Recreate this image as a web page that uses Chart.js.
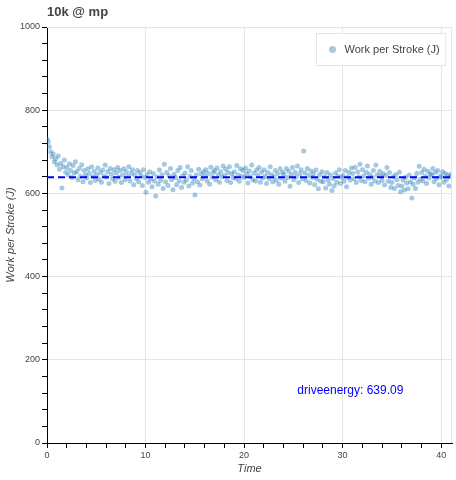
<!DOCTYPE html>
<html lang="en">
<head>
  <meta charset="UTF-8" />
  <title>10k @ mp</title>
  <script src="https://cdn.jsdelivr.net/npm/chart.js"></script>
  <style>
    body {
      margin: 0;
      background: #fff;
    }
    #wrap {
      width: 456px;
      height: 480px;
    }
  </style>
</head>
<body>
  <div id="wrap"><canvas id="chart" width="456" height="480"></canvas></div>

  <script>
    const titleText = '10k @ mp';
    const seriesLabel = 'Work per Stroke (J)';
    const meanLabel = 'driveenergy';
    const meanValue = 639.09;
    const xTicks = [0, 10, 20, 30, 40];
    const yTicks = [0, 200, 400, 600, 800, 1000];

    // time of each stroke (minutes)
    const times = [
      0, 0.13, 0.25, 0.38, 0.5, 0.63, 0.75, 0.88,
      1.01, 1.14, 1.26, 1.39, 1.51, 1.64, 1.76, 1.89,
      2.02, 2.14, 2.27, 2.39, 2.52, 2.64, 2.77, 2.89,
      3.02, 3.15, 3.27, 3.4, 3.52, 3.65, 3.77, 3.9,
      4.03, 4.15, 4.28, 4.4, 4.53, 4.65, 4.78, 4.9,
      5.03, 5.16, 5.28, 5.41, 5.53, 5.66, 5.78, 5.91,
      6.04, 6.16, 6.29, 6.41, 6.54, 6.66, 6.79, 6.91,
      7.04, 7.17, 7.29, 7.42, 7.54, 7.67, 7.79, 7.92,
      8.05, 8.17, 8.3, 8.42, 8.55, 8.67, 8.8, 8.92,
      9.05, 9.18, 9.3, 9.43, 9.55, 9.68, 9.8, 9.93,
      10.04, 10.16, 10.29, 10.41, 10.54, 10.66, 10.79, 10.91,
      11.03, 11.16, 11.28, 11.41, 11.53, 11.66, 11.78, 11.91,
      12.03, 12.15, 12.28, 12.4, 12.53, 12.65, 12.78, 12.9,
      13.02, 13.15, 13.27, 13.4, 13.52, 13.65, 13.77, 13.9,
      14.02, 14.14, 14.27, 14.39, 14.52, 14.64, 14.77, 14.89,
      15.01, 15.14, 15.26, 15.39, 15.51, 15.64, 15.76, 15.89,
      16.01, 16.13, 16.26, 16.38, 16.51, 16.63, 16.76, 16.88,
      17, 17.13, 17.25, 17.38, 17.5, 17.63, 17.75, 17.88,
      18.01, 18.13, 18.26, 18.38, 18.51, 18.63, 18.76, 18.88,
      19.01, 19.14, 19.26, 19.39, 19.51, 19.64, 19.76, 19.89,
      20.02, 20.14, 20.27, 20.39, 20.52, 20.64, 20.77, 20.89,
      21.02, 21.15, 21.27, 21.4, 21.52, 21.65, 21.77, 21.9,
      22.03, 22.15, 22.28, 22.4, 22.53, 22.65, 22.78, 22.9,
      23.03, 23.16, 23.28, 23.41, 23.53, 23.66, 23.78, 23.91,
      24.04, 24.16, 24.29, 24.41, 24.54, 24.66, 24.79, 24.91,
      25.04, 25.17, 25.29, 25.42, 25.54, 25.67, 25.79, 25.92,
      26.05, 26.17, 26.3, 26.42, 26.55, 26.67, 26.8, 26.92,
      27.04, 27.16, 27.29, 27.41, 27.54, 27.66, 27.79, 27.91,
      28.03, 28.16, 28.28, 28.41, 28.53, 28.66, 28.78, 28.91,
      29.03, 29.15, 29.28, 29.4, 29.53, 29.65, 29.78, 29.9,
      30.02, 30.15, 30.27, 30.4, 30.52, 30.65, 30.77, 30.9,
      31.02, 31.14, 31.27, 31.39, 31.52, 31.64, 31.77, 31.89,
      32.01, 32.14, 32.26, 32.39, 32.51, 32.64, 32.76, 32.89,
      33.01, 33.13, 33.26, 33.38, 33.51, 33.63, 33.76, 33.88,
      34, 34.13, 34.25, 34.38, 34.5, 34.63, 34.75, 34.88,
      35.01, 35.13, 35.26, 35.38, 35.51, 35.63, 35.76, 35.88,
      36.01, 36.14, 36.26, 36.39, 36.51, 36.64, 36.76, 36.89,
      37.02, 37.14, 37.27, 37.39, 37.52, 37.64, 37.77, 37.89,
      38.02, 38.15, 38.27, 38.4, 38.52, 38.65, 38.77, 38.9,
      39.03, 39.15, 39.28, 39.4, 39.53, 39.65, 39.78, 39.9,
      40.03, 40.16, 40.28, 40.41, 40.53, 40.66, 40.78, 40.91,
      41.02
    ];

    // work per stroke (J)
    const work = [
      731, 724, 712, 700, 688, 695, 676, 683,
      669, 690, 658, 672, 613, 664, 680, 651,
      662, 645, 671, 655, 638, 667, 649, 676,
      652, 633, 660, 641, 669, 628, 655, 644,
      637, 659, 648, 626, 664, 640, 653, 631,
      645, 661, 634, 650, 627, 656, 642, 668,
      639, 652, 624, 660, 646, 635, 657, 629,
      649, 662, 638, 655, 626, 644, 659, 633,
      652, 641, 664, 630, 648, 657, 621, 645,
      636, 655, 628, 650, 642, 619, 657, 638,
      603, 645, 627, 652, 634, 616, 648, 630,
      594, 640, 622, 656, 631, 645, 612, 670,
      628, 650, 619, 642, 660, 633, 609, 646,
      638, 621, 655, 630, 662, 614, 643, 627,
      649, 632, 664, 618, 641, 655, 625, 636,
      596, 644, 628, 658, 620, 647, 635, 652,
      641, 657, 630, 648, 622, 663, 639, 650,
      655, 633, 661, 645, 627, 652, 640, 666,
      643, 658, 631, 650, 664, 626, 647, 638,
      652, 636, 667, 644, 629, 659, 641, 655,
      638, 661, 647, 625, 654, 640, 668, 633,
      649, 630, 656, 643, 662, 627, 651, 637,
      657, 641, 624, 650, 636, 664, 645, 628,
      640, 655, 631, 648, 622, 659, 637, 651,
      646, 629, 660, 638, 653, 617, 644, 662,
      633, 651, 640, 666, 626, 647, 657, 635,
      702, 649, 631, 660, 643, 625, 654, 638,
      647, 621, 656, 634, 611, 645, 629, 652,
      628, 640, 613, 650, 632, 622, 644, 607,
      636, 618, 649, 627, 641, 657, 624, 638,
      643, 629, 655, 616, 639, 650, 632, 661,
      648, 635, 663, 626, 652, 640, 670, 631,
      657, 642, 628, 651, 666, 637, 646, 622,
      639, 655, 630, 668, 644, 626, 653, 641,
      631, 648, 620, 643, 662, 629, 650, 614,
      626, 640, 612, 645, 633, 619, 651, 604,
      618, 632, 608, 639, 625, 611, 644, 628,
      589, 622, 637, 612, 648, 627, 665, 634,
      650, 630, 658, 641, 624, 653, 637, 647,
      645, 660, 628, 650, 636, 655, 621, 642,
      639, 652, 627, 648, 633, 644, 618, 640,
      646
    ];

    const xMax = 41.1;
    const fontFam = '"Liberation Sans", Arial, Helvetica, sans-serif';
    const pointColor = 'rgba(31,119,180,0.4)';
    const gridColor = '#e5e5e5';

    const points = times.map((t, i) => ({ x: t, y: work[i] }));

    // tick values come out of the step loop with float noise
    const near = (v, list) => list.some(m => Math.abs(v - m) < 1e-6);

    // outline, title, legend and mean label
    const overlay = {
      id: 'overlay',
      afterDraw(chart) {
        const { ctx, chartArea: a, scales } = chart;
        ctx.save();

        ctx.strokeStyle = gridColor;
        ctx.lineWidth = 1;
        ctx.beginPath();
        ctx.moveTo(a.left, a.top + 0.5);
        ctx.lineTo(a.right - 0.5, a.top + 0.5);
        ctx.lineTo(a.right - 0.5, a.bottom);
        ctx.stroke();

        ctx.fillStyle = '#444';
        ctx.font = 'bold 13px ' + fontFam;
        ctx.textBaseline = 'middle';
        ctx.textAlign = 'left';
        ctx.fillText(titleText, a.left, 12);

        // legend box
        ctx.font = '11px ' + fontFam;
        const tw = ctx.measureText(seriesLabel).width;
        const bw = tw + 34, bh = 32;
        const bx = Math.round(a.right - 7 - bw) + 0.5, by = a.top + 6.5;
        ctx.fillStyle = 'rgba(255,255,255,0.95)';
        ctx.fillRect(bx, by, bw, bh);
        ctx.strokeStyle = gridColor;
        ctx.strokeRect(bx, by, bw, bh);
        ctx.fillStyle = pointColor;
        ctx.beginPath();
        ctx.arc(bx + 16, by + bh / 2, 3.5, 0, Math.PI * 2);
        ctx.fill();
        ctx.fillStyle = '#444';
        ctx.fillText(seriesLabel, bx + 28, by + bh / 2);

        // mean label
        ctx.fillStyle = 'blue';
        ctx.font = '12px ' + fontFam;
        ctx.fillText(meanLabel + ': ' + meanValue.toFixed(2),
          scales.x.getPixelForValue(25.4), scales.y.getPixelForValue(125));

        ctx.restore();
      }
    };

    new Chart(document.getElementById('chart'), {
      type: 'scatter',
      data: {
        datasets: [
          {
            label: seriesLabel,
            data: points,
            backgroundColor: pointColor,
            borderWidth: 0,
            pointRadius: 2.5,
            pointHoverRadius: 2.5,
            order: 1
          },
          {
            type: 'line',
            label: meanLabel,
            data: [{ x: 0, y: meanValue }, { x: xMax, y: meanValue }],
            borderColor: 'blue',
            borderWidth: 2,
            borderDash: [7, 4],
            pointRadius: 0,
            fill: false,
            order: 0
          }
        ]
      },
      options: {
        responsive: false,
        animation: false,
        layout: { padding: { left: 0, right: 4, top: 27, bottom: 0 } },
        plugins: {
          legend: { display: false },
          title: { display: false },
          tooltip: { enabled: false }
        },
        scales: {
          x: {
            type: 'linear',
            min: 0,
            max: xMax,
            afterFit: s => { s.height = 37; },
            ticks: {
              stepSize: 2,
              includeBounds: false,
              autoSkip: false,
              maxRotation: 0,
              padding: 2,
              color: '#444',
              font: { size: 9, family: fontFam },
              callback: v => near(v, xTicks) ? String(Math.round(v)) : ''
            },
            grid: {
              color: c => (c.tick && near(c.tick.value, xTicks)) ? gridColor : 'rgba(0,0,0,0)',
              tickColor: '#000',
              tickLength: 5
            },
            border: { color: '#000', width: 1 },
            title: {
              display: true,
              text: 'Time',
              color: '#444',
              font: { size: 11, style: 'italic', family: fontFam }
            }
          },
          y: {
            min: 0,
            max: 1000,
            afterFit: s => { s.width = 47; },
            ticks: {
              stepSize: 40,
              autoSkip: false,
              padding: 2,
              color: '#444',
              font: { size: 9, family: fontFam },
              callback: v => near(v, yTicks) ? String(Math.round(v)) : ''
            },
            grid: {
              color: c => (c.tick && near(c.tick.value, yTicks)) ? gridColor : 'rgba(0,0,0,0)',
              tickColor: '#000',
              tickLength: 5
            },
            border: { color: '#000', width: 1 },
            title: {
              display: true,
              text: 'Work per Stroke (J)',
              color: '#444',
              font: { size: 11, style: 'italic', family: fontFam }
            }
          }
        }
      },
      plugins: [overlay]
    });
  </script>
</body>
</html>
